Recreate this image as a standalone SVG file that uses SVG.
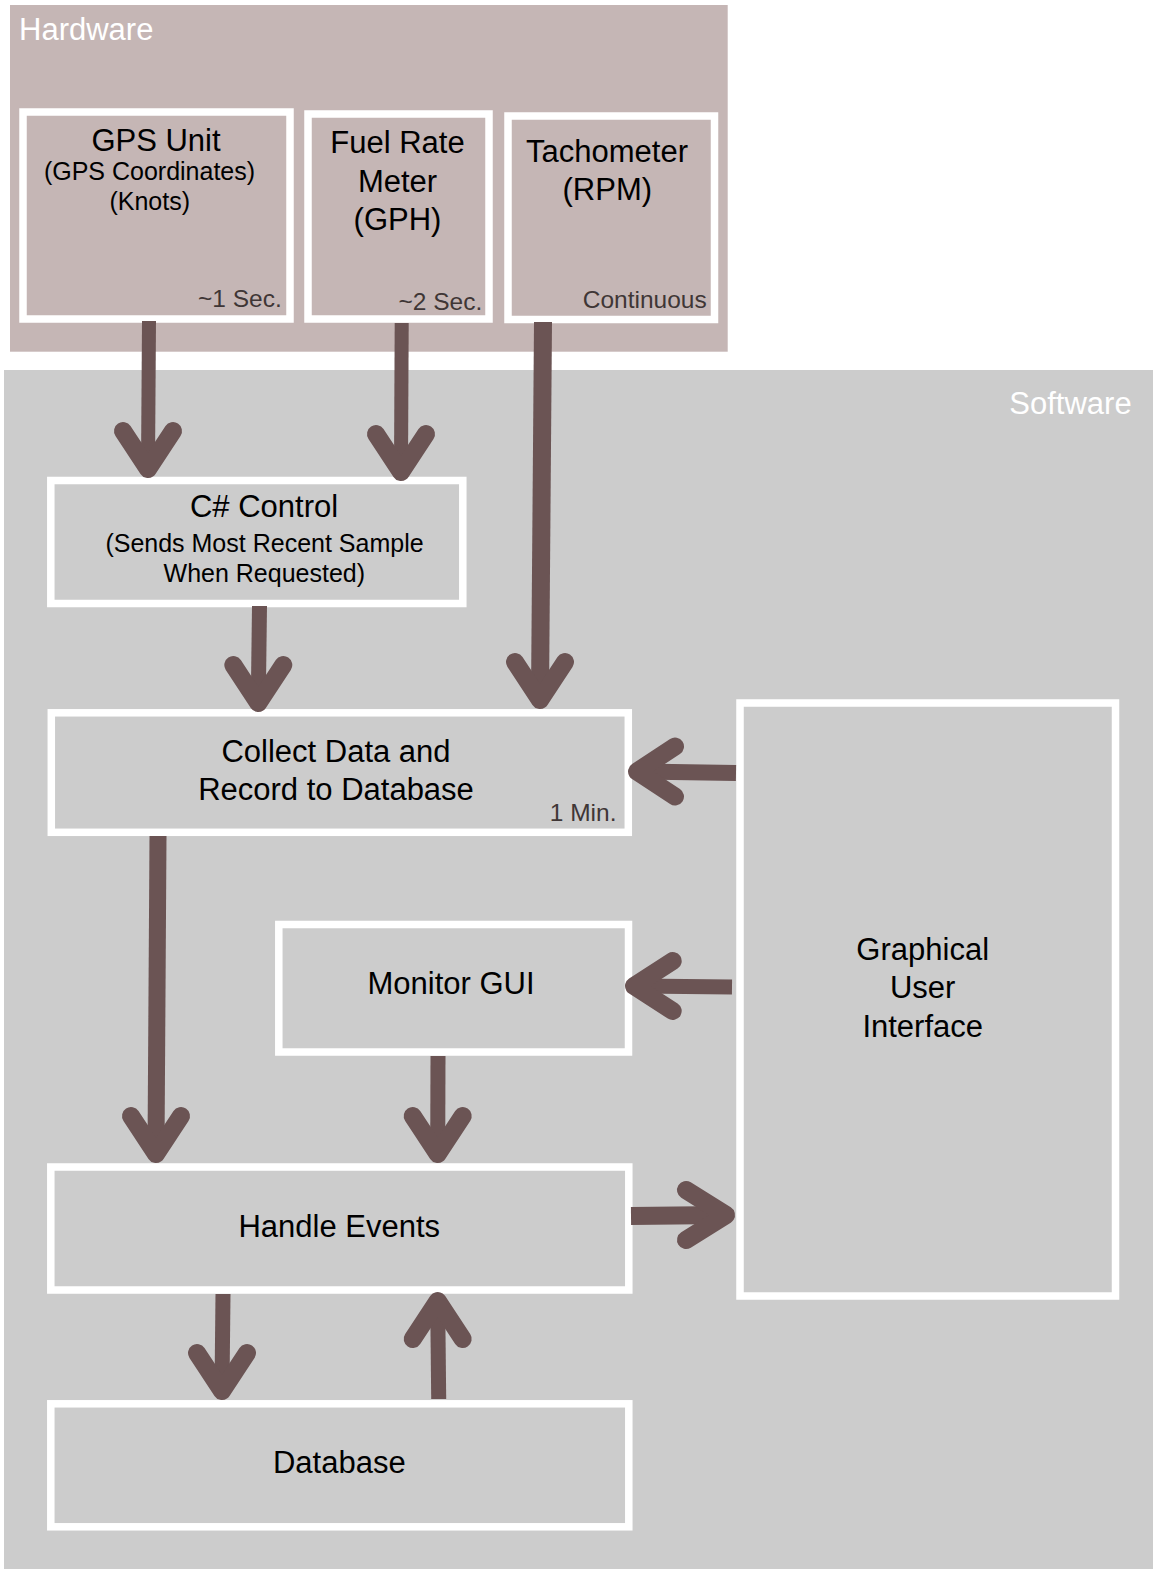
<svg xmlns="http://www.w3.org/2000/svg" width="1153" height="1569" viewBox="0 0 1153 1569">
<style>
.box{fill:none;stroke:#ffffff;stroke-width:7.5}
.t{font-family:"Liberation Sans",Arial,sans-serif;font-size:31px;fill:#000;text-anchor:middle}
.s{font-family:"Liberation Sans",Arial,sans-serif;font-size:25px;fill:#000;text-anchor:middle}
.n{font-family:"Liberation Sans",Arial,sans-serif;font-size:24.5px;fill:#3f3636;text-anchor:end}
.w{font-family:"Liberation Sans",Arial,sans-serif;font-size:31px;fill:#ffffff}
.sh{fill:none;stroke:#6b5454}
.hd{fill:none;stroke:#6b5454;stroke-width:18;stroke-linecap:round;stroke-linejoin:round}
</style>
<rect width="1153" height="1569" fill="#ffffff"/>
<g id="hardware">
<rect x="10" y="5" width="717.7" height="346.7" fill="#c5b6b5"/>
<text class="w" x="19" y="40">Hardware</text>
</g>
<g id="software">
<rect x="4" y="370" width="1149" height="1199" fill="#cccccc"/>
<text class="w" x="1131.7" y="414.3" text-anchor="end">Software</text>
</g>
<g id="gps">
<rect class="box" x="23" y="112" width="267" height="207"/>
<text class="t" x="156" y="151">GPS Unit</text>
<text class="s" x="149.5" y="180">(GPS Coordinates)</text>
<text class="s" x="149.7" y="210">(Knots)</text>
<text class="n" x="281.7" y="306.7">~1 Sec.</text>
</g>
<g id="fuel">
<rect class="box" x="308" y="114" width="181" height="205"/>
<text class="t" x="397.5" y="153.3">Fuel Rate</text>
<text class="t" x="397.5" y="191.7">Meter</text>
<text class="t" x="397.5" y="230">(GPH)</text>
<text class="n" x="482.3" y="310">~2 Sec.</text>
</g>
<g id="tachometer">
<rect class="box" x="508" y="116" width="206.5" height="203.5"/>
<text class="t" x="607" y="162.3">Tachometer</text>
<text class="t" x="607.3" y="200">(RPM)</text>
<text class="n" x="706.7" y="308.3">Continuous</text>
</g>
<g id="csharp">
<rect class="box" x="50.8" y="480.5" width="412" height="123"/>
<text class="t" x="264" y="517.3">C# Control</text>
<text class="s" x="264.5" y="551.7">(Sends Most Recent Sample</text>
<text class="s" x="264.3" y="581.7">When Requested)</text>
</g>
<g id="collect">
<rect class="box" x="51.3" y="712.8" width="577" height="119.5"/>
<text class="t" x="336" y="762.3">Collect Data and</text>
<text class="t" x="336" y="800">Record to Database</text>
<text class="n" x="616.5" y="821">1 Min.</text>
</g>
<g id="monitor">
<rect class="box" x="278.8" y="924.5" width="349.7" height="127.5"/>
<text class="t" x="451" y="994.3">Monitor GUI</text>
</g>
<g id="gui">
<rect class="box" x="740" y="703" width="375.5" height="593"/>
<text class="t" x="922.7" y="960">Graphical</text>
<text class="t" x="922.7" y="998.3">User</text>
<text class="t" x="922.7" y="1037">Interface</text>
</g>
<g id="handle">
<rect class="box" x="50.8" y="1167" width="578" height="123"/>
<text class="t" x="339.3" y="1236.7">Handle Events</text>
</g>
<g id="database">
<rect class="box" x="50.8" y="1403.8" width="578" height="123"/>
<text class="t" x="339.3" y="1473.3">Database</text>
</g>
<g id="connectors">
<path class="sh" stroke-width="14" d="M149,321 L148,465"/>
<path class="hd" d="M123,431 L148,469 L173,431"/>
<path class="sh" stroke-width="14" d="M401.7,323 L401,468"/>
<path class="hd" d="M376,434 L401,472 L426,434"/>
<path class="sh" stroke-width="18" d="M543,322 L540,696"/>
<path class="hd" d="M515,662 L540,700 L565,662"/>
<path class="sh" stroke-width="15" d="M259.5,606 L258.3,699"/>
<path class="hd" d="M233.3,665 L258.3,703 L283.3,665"/>
<path class="sh" stroke-width="17" d="M158,836 L156,1150"/>
<path class="hd" d="M131,1116 L156,1154 L181,1116"/>
<path class="sh" stroke-width="15" d="M438,1056 L437.7,1150"/>
<path class="hd" d="M412.7,1116 L437.7,1154 L462.7,1116"/>
<path class="sh" stroke-width="15" d="M223,1294 L222,1387"/>
<path class="hd" d="M197,1353 L222,1391 L247,1353"/>
<path class="sh" stroke-width="15" d="M438.7,1399 L437.7,1305"/>
<path class="hd" d="M412.7,1339 L437.7,1301 L462.7,1339"/>
<path class="sh" stroke-width="16" d="M736,773 L641,771.5"/>
<path class="hd" d="M675,746.5 L637,771.5 L675,796.5"/>
<path class="sh" stroke-width="15" d="M732,987 L638,986"/>
<path class="hd" d="M672.7,961 L634,986 L672.7,1011"/>
<path class="sh" stroke-width="18" d="M631,1216 L722,1215"/>
<path class="hd" d="M686,1190 L726,1215 L686,1240"/>
</g>
</svg>
